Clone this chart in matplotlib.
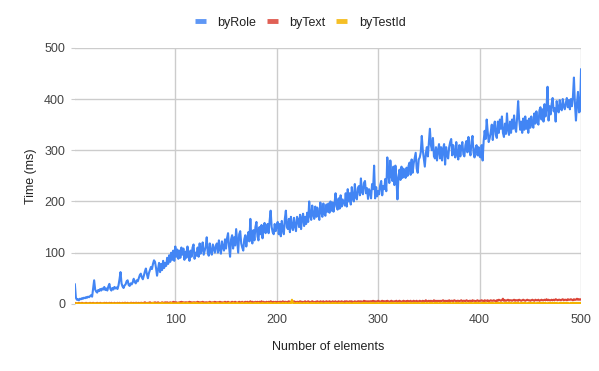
import matplotlib
matplotlib.use("Agg")
import matplotlib.pyplot as plt

# number of elements 1..500
elements = list(range(1, 501))

# byRole in blocks of 10
byRole = [
	38, 12, 8, 9, 7, 10, 9, 11, 10, 12,
	11, 13, 12, 14, 13, 15, 17, 14, 30, 46,
	28, 24, 22, 27, 25, 29, 26, 30, 28, 33,
	27, 30, 26, 34, 39, 29, 26, 31, 28, 33,
	30, 32, 29, 36, 48, 62, 40, 34, 31, 36,
	38, 44, 46, 37, 35, 40, 38, 42, 49, 43,
	40, 46, 44, 50, 56, 59, 52, 48, 55, 63,
	69, 58, 50, 60, 66, 72, 68, 78, 85, 82,
	70, 55, 68, 80, 62, 78, 66, 84, 70, 80,
	74, 90, 78, 95, 82, 100, 86, 104, 84, 112,
	92, 106, 88, 104, 90, 110, 96, 108, 86, 102,
	90, 112, 96, 84, 104, 92, 110, 116, 88, 100,
	94, 110, 92, 118, 98, 106, 120, 96, 104, 112,
	130, 100, 94, 118, 102, 96, 116, 108, 100, 114,
	118, 100, 124, 106, 98, 122, 110, 104, 126, 108,
	128, 138, 112, 92, 126, 134, 108, 130, 114, 146,
	124, 100, 136, 142, 118, 110, 104, 126, 134, 112,
	128, 140, 122, 166, 126, 118, 144, 124, 150, 160,
	132, 124, 150, 136, 154, 128, 148, 158, 138, 146,
	156, 138, 162, 182, 150, 140, 136, 156, 142, 154,
	160, 136, 156, 132, 162, 144, 136, 166, 182, 150,
	146, 166, 140, 170, 150, 144, 168, 152, 142, 170,
	164, 150, 174, 146, 168, 176, 152, 170, 156, 178,
	160, 200, 172, 164, 192, 174, 166, 190, 170, 188,
	174, 164, 198, 180, 170, 196, 176, 172, 194, 180,
	196, 178, 200, 182, 198, 180, 196, 216, 190, 184,
	206, 186, 212, 190, 204, 198, 192, 216, 190, 224,
	200, 216, 194, 228, 206, 200, 234, 208, 204, 226,
	230, 212, 245, 218, 214, 236, 240, 216, 226, 205,
	224, 218, 206, 234, 224, 270, 206, 228, 210, 220,
	214, 232, 240, 212, 230, 224, 244, 220, 286, 256,
	236, 280, 250, 240, 268, 232, 270, 244, 204, 248,
	262, 242, 268, 246, 264, 258, 246, 266, 250, 270,
	276, 252, 282, 256, 274, 284, 295, 264, 256, 282,
	286, 296, 328, 300, 284, 268, 294, 306, 288, 314,
	342, 310, 300, 324, 288, 284, 306, 280, 300, 312,
	284, 306, 280, 302, 312, 272, 306, 290, 284, 306,
	316, 322, 290, 310, 294, 286, 316, 292, 282, 310,
	288, 306, 316, 292, 288, 310, 318, 296, 326, 302,
	290, 316, 328, 296, 286, 304, 310, 290, 306, 288,
	286, 310, 280, 318, 338, 322, 360, 336, 316, 324,
	336, 350, 320, 346, 356, 330, 324, 356, 334, 360,
	342, 366, 334, 326, 352, 332, 372, 340, 330, 356,
	334, 360, 342, 368, 344, 336, 364, 396, 360, 340,
	356, 334, 362, 340, 366, 342, 358, 334, 362, 344,
	366, 350, 344, 372, 352, 376, 356, 350, 378, 384,
	360, 380, 356, 390, 366, 384, 424, 358, 386, 370,
	390, 402, 376, 382, 356, 396, 380, 374, 398, 382,
	378, 400, 386, 380, 392, 402, 384, 398, 380, 400,
	386, 404, 442, 390, 358, 392, 414, 374, 376, 458,
]

byText = [
	2,1,1,1,2,1,1,2,1,1, 1,2,1,1,1,2,1,1,2,1, 1,1,2,1,1,2,1,1,1,2, 1,2,1,1,2,1,2,1,1,2, 1,1,2,1,2,1,1,2,1,2,
	2,1,2,1,1,2,2,1,2,1, 2,2,1,2,1,2,2,1,2,3, 2,1,2,2,3,2,1,2,2,3, 2,2,3,2,1,2,3,2,2,3, 2,3,2,2,3,2,2,4,2,3,
	3,2,2,3,2,4,2,3,2,3, 3,2,3,4,2,3,2,3,3,2, 3,4,2,3,3,2,4,3,2,3, 3,2,3,4,3,2,3,3,4,2, 3,3,2,4,3,3,2,3,4,3,
	3,4,3,2,3,4,3,3,4,3, 2,3,4,3,3,4,2,3,4,3, 4,3,3,5,3,4,3,3,4,3, 4,3,4,3,5,3,4,3,3,4, 3,4,3,5,4,3,4,3,4,3,
	4,3,4,4,3,5,3,4,4,3, 4,5,3,4,4,3,5,4,3,4, 4,3,5,4,4,3,4,5,3,4, 5,4,3,4,5,4,3,4,4,5, 4,3,5,4,4,5,3,4,5,4,
	4,5,4,3,5,4,4,5,3,4, 5,4,4,5,4,3,5,4,5,4, 4,5,4,5,3,4,5,4,4,5, 5,4,5,4,4,6,4,5,4,5, 4,5,5,4,6,4,5,4,5,6,
	5,4,5,6,4,5,5,4,6,5, 4,5,6,5,4,5,5,6,4,5, 6,5,4,5,6,5,5,4,6,5, 5,6,4,5,6,5,5,6,4,5, 6,5,5,6,4,5,7,5,5,6,
	5,6,5,5,7,5,6,5,6,5, 6,5,6,7,5,6,5,6,5,7, 5,6,6,5,7,6,5,6,6,5, 6,7,5,6,6,5,7,6,5,6, 6,5,7,6,6,5,6,7,5,6,
	6,7,6,5,7,6,6,7,5,6, 7,6,6,7,6,5,7,6,8,7, 6,7,10,6,7,6,7,8,6,7, 7,6,7,8,6,7,7,6,8,7, 6,7,8,7,6,7,8,7,7,6,
	7,8,7,6,8,7,7,8,6,7, 8,7,7,8,7,9,7,8,7,7, 8,7,8,7,9,8,7,8,8,7, 8,9,7,8,8,7,9,8,8,9, 8,7,9,8,8,10,8,9,8,9,
]

byTestId = [
	1,1,1,0,1,1,1,1,0,1, 1,1,0,1,1,1,1,0,1,1, 1,0,1,1,1,1,0,1,1,1, 1,1,0,1,1,1,0,1,1,1, 0,1,1,1,1,0,1,1,1,1,
	1,1,0,1,1,1,1,1,0,1, 1,1,1,0,1,1,1,1,1,0, 1,1,1,1,0,1,1,2,1,1, 1,0,1,1,1,1,2,1,1,1, 1,1,0,1,1,2,1,1,1,1,
	1,1,2,1,1,1,1,2,1,1, 1,2,1,1,1,1,1,2,1,1, 2,1,1,1,1,2,1,1,1,1, 1,1,2,1,1,1,2,1,1,1, 1,2,1,1,1,1,1,2,1,1,
	1,1,2,1,1,1,2,1,1,1, 2,1,1,1,1,2,1,1,1,2, 1,1,1,2,1,1,1,1,2,1, 1,2,1,1,1,2,1,1,1,1, 2,1,1,2,1,1,1,2,1,1,
	1,2,1,1,1,2,1,1,2,1, 1,1,2,1,8,2,1,1,1,2, 1,1,2,1,1,1,2,1,1,2, 1,1,1,2,1,1,2,1,1,1, 2,1,1,2,1,1,1,2,1,1,
	2,1,1,1,2,1,1,2,1,1, 1,2,1,1,2,1,1,1,2,1, 1,2,1,1,1,2,1,2,1,1, 2,1,1,1,2,1,1,2,1,1, 1,2,1,1,2,1,1,1,2,1,
	1,2,1,2,1,1,2,1,1,2, 1,1,2,1,2,1,1,2,1,1, 2,1,1,2,1,2,1,1,2,1, 1,2,1,1,2,1,2,1,1,2, 1,1,2,1,2,1,1,2,1,1,
	2,1,2,1,1,2,1,2,1,1, 2,1,1,2,1,2,1,1,2,1, 2,1,1,2,1,1,2,1,2,1, 1,2,1,2,1,1,2,1,1,2, 1,2,1,1,2,1,2,1,2,1,
	1,2,1,2,1,2,1,1,2,1, 2,1,2,1,1,2,1,2,1,2, 1,2,1,1,2,1,2,1,2,1, 2,1,1,2,1,2,1,2,1,1, 2,1,2,1,2,1,1,2,1,2,
	1,2,1,2,1,1,2,1,2,1, 2,1,2,1,2,1,1,2,1,2, 1,2,1,2,1,2,1,1,2,1, 2,1,2,1,2,1,2,1,1,2, 1,2,1,2,1,2,1,2,1,2,
]

series = ["byRole", "byText", "byTestId"]
colors = ["#4285F4", "#DB4437", "#F4B400"]
xticks = [100, 200, 300, 400, 500]
yticks = [0, 100, 200, 300, 400, 500]

plt.rcParams["font.family"] = ["Liberation Sans", "DejaVu Sans"]

fig = plt.figure(figsize=(5.99, 3.71), dpi=100)
ax = fig.add_axes([0.125, 0.181, 0.845, 0.690])

for name, data, col in zip(series, [byRole, byText, byTestId], colors):
	ax.plot(elements, data, color=col, lw=1.5, label=name, solid_joinstyle="round")

ax.set_xlim(1, 500)
ax.set_ylim(0, 500)
ax.set_xticks(xticks)
ax.set_yticks(yticks)
ax.grid(color="#cccccc", lw=1)
ax.set_axisbelow(True)
for s in ax.spines.values():
	s.set_visible(False)
ax.tick_params(axis="y", length=3, color="#cccccc", pad=4, labelsize=9, labelcolor="#444444")
ax.tick_params(axis="x", length=0, pad=7, labelsize=9, labelcolor="#444444")

ax.set_xlabel("Number of elements", fontsize=9, color="#222222", labelpad=11)
ax.set_ylabel("Time (ms)", fontsize=9, color="#222222", labelpad=5)

leg = fig.legend(loc="upper center", bbox_to_anchor=(0.501, 0.985), ncol=3, frameon=False,
	fontsize=9, handlelength=0.9, handletextpad=0.9, columnspacing=0.85, labelcolor="#222222")
for line in leg.get_lines():
	line.set_linewidth(3.5)
	line.set_solid_capstyle("butt")
	line.set_alpha(0.85)

fig.savefig("out.png", dpi=100)
